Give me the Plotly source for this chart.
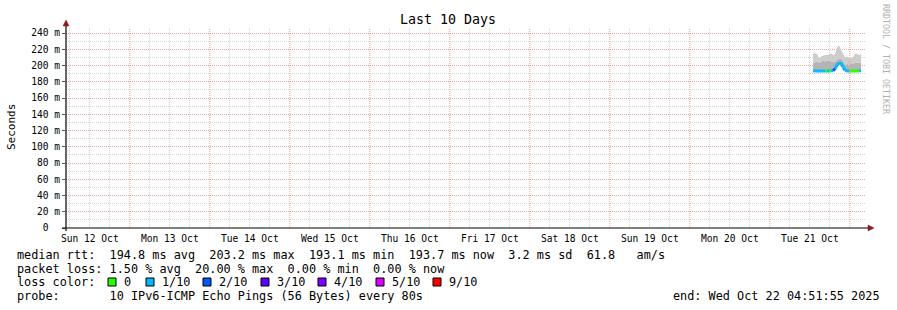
import plotly.graph_objects as go
import pandas as pd

# ---------------- data ----------------
range_start = "2025-10-12 04:51:55"
range_end = "2025-10-22 04:51:55"
times = pd.date_range("2025-10-21 13:00", periods=25, freq="36min")

median_ms = [193.6, 193.2, 193.2, 193.2, 193.1, 193.2, 193.2, 193.2, 193.2, 193.4, 193.8, 196.0, 201.0,
             203.2, 202.8, 198.0, 194.0, 193.3, 193.1, 193.1, 193.1, 193.2, 193.1, 193.2, 193.7]
inner_ms = [203, 204, 205, 203, 205, 206, 205, 206, 206, 205, 204, 205, 207,
            209, 208, 206, 201, 202, 201, 203, 202, 204, 203, 204, 203]
top_ms = [215, 215, 214, 209, 211, 212, 213, 213, 214, 215, 213, 214, 222,
          225, 219, 214, 210, 211, 209, 209, 210, 215, 214, 213, 214]
loss = [1, 1, 1, 1, 1, 1, 0, 1, 0, 1, 2, 1, 1, 1, 1, 1, 1, 1, 0, 0, 0, 0, 0, 1, 0]

loss_levels = ["0", "1/10", "2/10", "3/10", "4/10", "5/10", "9/10"]
loss_keys = [0, 1, 2, 3, 4, 5, 9]
loss_colors = ["#26ff00", "#00b8ff", "#0059ff", "#5e00ff", "#7e00ff", "#dd00ff", "#ff0000"]

day_noons = pd.date_range("2025-10-12 12:00", periods=10, freq="D")
day_midnights = pd.date_range("2025-10-13 00:00", periods=10, freq="D")
six_hours = [t for t in pd.date_range("2025-10-12 06:00", "2025-10-22 04:00", freq="6h") if t.hour != 0]
day_labels = ["Sun 12 Oct", "Mon 13 Oct", "Tue 14 Oct", "Wed 15 Oct", "Thu 16 Oct",
              "Fri 17 Oct", "Sat 18 Oct", "Sun 19 Oct", "Mon 20 Oct", "Tue 21 Oct"]
y_ticks = list(range(0, 241, 20))
y_labels = ["0\u00a0\u00a0"] + [f"{v}\u00a0m" for v in y_ticks[1:]]

legend_lines = [
    "median rtt:  194.8 ms avg  203.2 ms max  193.1 ms min  193.7 ms now  3.2 ms sd  61.8   am/s",
    "packet loss: 1.50 % avg  20.00 % max  0.00 % min  0.00 % now",
    "loss color:",
    "probe:       10 IPv6-ICMP Echo Pings (56 Bytes) every 80s",
]
end_text = "end: Wed Oct 22 04:51:55 2025"

# ---------------- layout geometry ----------------
W, H = 897, 310
L, R, T, B = 66, 866, 28, 228
MONO = "DejaVu Sans Mono"
LEG_SIZE = 11.83


def px(x):
    return (x - L) / (R - L)


def py(y):
    return (B - y) / (B - T)


fig = go.Figure()

# smoke
fig.add_trace(go.Scatter(x=times, y=median_ms, mode="lines", line=dict(width=0),
                         showlegend=False, hoverinfo="skip"))
fig.add_trace(go.Scatter(x=times, y=inner_ms, mode="lines", line=dict(width=0),
                         fill="tonexty", fillcolor="#b4b4b4", showlegend=False, hoverinfo="skip"))
fig.add_trace(go.Scatter(x=times, y=top_ms, mode="lines", line=dict(width=0),
                         fill="tonexty", fillcolor="#cdcdcd", showlegend=False, hoverinfo="skip"))

# median coloured by loss
for key, col in zip(loss_keys, loss_colors):
    xs, ys = [], []
    for i in range(len(times) - 1):
        if loss[i] == key:
            xs += [times[i], times[i + 1], None]
            ys += [median_ms[i], median_ms[i + 1], None]
    if xs:
        fig.add_trace(go.Scatter(x=xs, y=ys, mode="lines", line=dict(color=col, width=3),
                                 showlegend=False, hoverinfo="skip"))

shapes = []
annotations = []

# red major vertical grid at midnight
for d in day_midnights:
    shapes.append(dict(type="line", xref="x", yref="paper", x0=d, x1=d, y0=0, y1=1,
                       line=dict(color="#eb9c9c", width=1, dash="1px,1px"), layer="above"))

# axis lines and arrows
arrow_col = "#8b1a1a"
shapes.append(dict(type="line", xref="paper", yref="paper", x0=px(62), x1=px(869), y0=py(228), y1=py(228),
                   line=dict(color="black", width=1.2)))
shapes.append(dict(type="line", xref="paper", yref="paper", x0=px(66), x1=px(66), y0=py(231), y1=py(25),
                   line=dict(color="black", width=1.2)))
shapes.append(dict(type="path", xref="paper", yref="paper",
                   path=f"M {px(868)},{py(225)} L {px(874)},{py(228)} L {px(868)},{py(231)} Z",
                   fillcolor=arrow_col, line=dict(color=arrow_col, width=0.5)))
shapes.append(dict(type="path", xref="paper", yref="paper",
                   path=f"M {px(63)},{py(26)} L {px(66)},{py(20)} L {px(69)},{py(26)} Z",
                   fillcolor=arrow_col, line=dict(color=arrow_col, width=0.5)))

# title, y title, watermark
annotations.append(dict(text="Last 10 Days", xref="paper", yref="paper", x=px(448), y=py(19),
                        showarrow=False, font=dict(family=MONO, size=13.3, color="black"),
                        xanchor="center", yanchor="middle"))
annotations.append(dict(text="Seconds", xref="paper", yref="paper", x=px(11), y=py(127), textangle=-90,
                        showarrow=False, font=dict(family=MONO, size=11, color="black"),
                        xanchor="center", yanchor="middle"))
annotations.append(dict(text="RRDTOOL / TOBI OETIKER", xref="paper", yref="paper", x=px(886), y=py(59),
                        textangle=90, showarrow=False, font=dict(family=MONO, size=8.3, color="#b0b0b0"),
                        xanchor="center", yanchor="middle"))

# legend text lines
rows_y = [255, 268.5, 282, 296]
for txt, yy in zip(legend_lines, rows_y):
    annotations.append(dict(text=txt.replace(" ", "\u00a0"), xref="paper", yref="paper", x=px(15), y=py(yy),
                            showarrow=False, font=dict(family=MONO, size=LEG_SIZE, color="black"),
                            xanchor="left", yanchor="middle"))
annotations.append(dict(text=end_text.replace(" ", "\u00a0"), xref="paper", yref="paper", x=px(882), y=py(296),
                        showarrow=False, font=dict(family=MONO, size=LEG_SIZE, color="black"),
                        xanchor="right", yanchor="middle"))

# loss colour boxes
box_x = [108, 146, 203, 261, 318, 376, 433]
for bx, col, lab in zip(box_x, loss_colors, loss_levels):
    shapes.append(dict(type="rect", xref="paper", yref="paper", x0=px(bx), x1=px(bx + 8),
                       y0=py(286), y1=py(278), fillcolor=col, line=dict(color="black", width=1)))
    annotations.append(dict(text=lab, xref="paper", yref="paper", x=px(bx + 14), y=py(282),
                            showarrow=False, font=dict(family=MONO, size=LEG_SIZE, color="black"),
                            xanchor="left", yanchor="middle"))

fig.update_layout(
    width=W, height=H,
    margin=dict(l=L, r=W - R, t=T, b=H - B, pad=0),
    paper_bgcolor="white", plot_bgcolor="white",
    showlegend=False,
    shapes=shapes, annotations=annotations,
    xaxis=dict(type="date", range=[range_start, range_end], tickmode="array",
               tickvals=day_noons, ticktext=day_labels, ticks="", showgrid=False,
               ticklabelstandoff=3,
               tickfont=dict(family=MONO, size=9.6, color="black"),
               minor=dict(tickmode="array", tickvals=six_hours, showgrid=True,
                          gridcolor="#d4d4d4", griddash="1px,1px", gridwidth=1),
               zeroline=False, showline=False, fixedrange=True),
    yaxis=dict(range=[0, 246.15], tickmode="array", tickvals=y_ticks, ticktext=y_labels,
               ticks="outside", ticklen=3, tickcolor="#555555",
               showgrid=True, gridcolor="#eba3a3", griddash="1px,1px", gridwidth=1,
               minor=dict(dtick=10, tick0=0, showgrid=True, gridcolor="#d4d4d4",
                          griddash="1px,1px", gridwidth=1),
               tickfont=dict(family=MONO, size=9.6, color="black"),
               zeroline=False, showline=False, fixedrange=True),
)

fig.write_html("out.html")
